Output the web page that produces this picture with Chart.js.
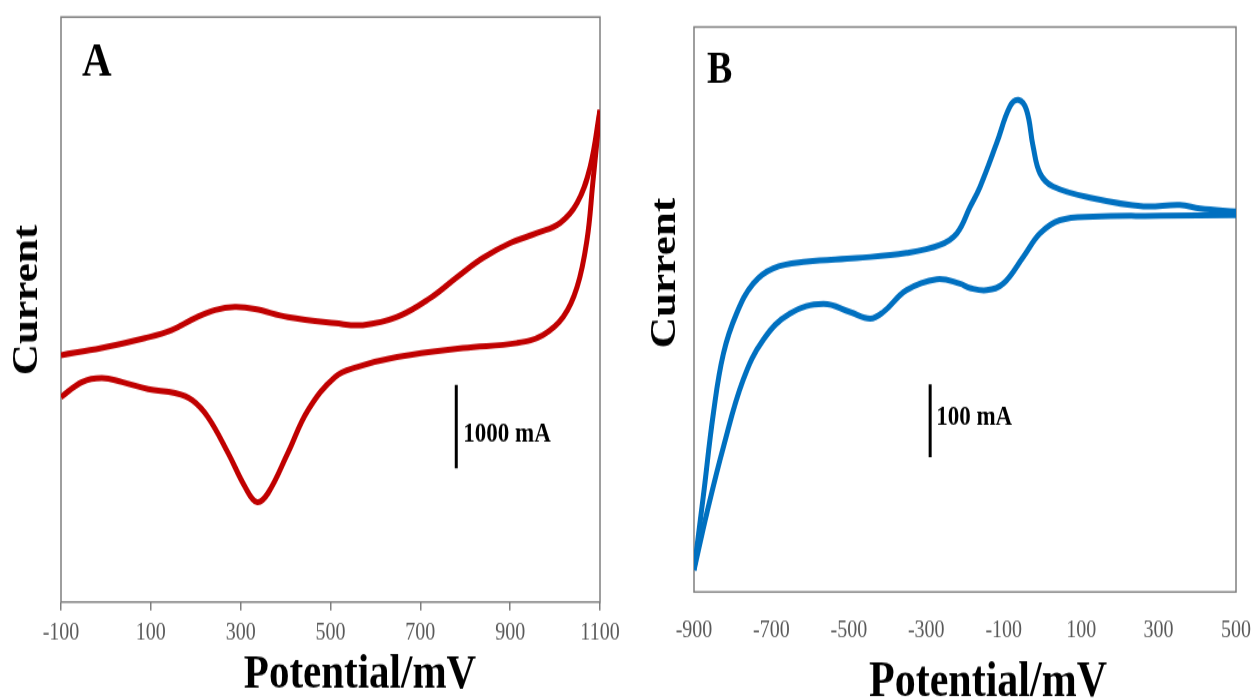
<!DOCTYPE html>
<html>
<head>
<meta charset="utf-8">
<script src="https://cdn.jsdelivr.net/npm/chart.js@4.4.0/dist/chart.umd.min.js"></script>
<style>
  html, body { margin: 0; padding: 0; background: #fff; }
  #wrap { position: relative; width: 1254px; height: 699px; overflow: hidden; }
  /* the source figure is stretched vertically, so each panel is scaled the same way */
  .panel { position: absolute; top: 0; width: 627px; height: 583px; transform: scaleY(1.2); transform-origin: 0 0; }
  #pa { left: 0; }
  #pb { left: 627px; }
  canvas { display: block; }
</style>
</head>
<body>
<div id="wrap">
  <div class="panel" id="pa"><canvas id="ca" width="627" height="583" style="width:627px;height:583px"></canvas></div>
  <div class="panel" id="pb"><canvas id="cb" width="627" height="583" style="width:627px;height:583px"></canvas></div>
</div>
<script>
// ---- Panel A: potential (mV) / current (mA), anodic branch and cathodic branch
const aUpperE = [-100, -10, 87, 146, 198, 243, 287, 332, 405, 510, 572, 648, 722, 782, 839, 900, 960, 1011, 1049, 1078, 1100];
const aUpperI = [-45, 40, 159, 255, 398, 494, 530, 506, 410, 338, 314, 410, 637, 889, 1116, 1296, 1415, 1535, 1774, 2205, 2887];
const aLowerE = [-100, -53, -9, 36, 94, 154, 192, 227, 272, 310, 336, 361, 405, 450, 510, 559, 648, 795, 915, 973, 1018, 1049, 1071, 1084, 1100];
const aLowerI = [-547, -367, -320, -367, -451, -499, -583, -786, -1217, -1624, -1803, -1696, -1217, -703, -308, -188, -68, 39, 99, 195, 410, 769, 1332, 2014, 2887];
const aTicks = [-100, 100, 300, 500, 700, 900, 1100];
const aBarE = 780;
const aBarI = [-1400, -400];   // 1000 mA scale bar

// ---- Panel B
const bUpperE = [-900, -876, -850, -824, -790, -747, -695, -609, -480, -351, -265, -221, -187, -161, -118, -84, -62, -41, -24, -6, 28, 131, 261, 355, 407, 500];
const bUpperI = [-520, -419, -305, -223, -168, -127, -106, -97, -92, -85, -74, -58, -22, 6, 66, 116, 125, 111, 61, 24, 6, -10, -21, -19, -24, -28];
const bLowerE = [-900, -867, -824, -773, -721, -652, -566, -497, -445, -411, -351, -273, -213, -187, -144, -101, -49, -6, 45, 131, 304, 500];
const bLowerI = [-520, -442, -351, -259, -204, -168, -155, -166, -175, -166, -136, -121, -127, -133, -136, -127, -90, -58, -40, -35, -34, -33];
const bTicks = [-900, -700, -500, -300, -100, 100, 300, 500];
const bBarE = -290;
const bBarI = [-365, -265];    // 100 mA scale bar

const SERIF = '"Liberation Serif", "Times New Roman", serif';

const pts = (xs, ys) => xs.map((x, i) => ({ x: x, y: ys[i] }));

// frame around the plot area + free text (panel letter, titles, scale bar label)
const frameAndText = {
  id: 'frameAndText',
  beforeDatasetsDraw(chart) {
    const { ctx, chartArea: a } = chart;
    ctx.save();
    ctx.strokeStyle = '#7f7f7f';
    ctx.lineWidth = 1.5;
    ctx.strokeRect(a.left, a.top, a.right - a.left, a.bottom - a.top);
    ctx.restore();
  },
  afterDraw(chart, args, opts) {
    const { ctx, chartArea: a, scales } = chart;
    for (const t of opts.texts || []) {
      const p = t.at(a, scales.x, scales.y);
      ctx.save();
      ctx.fillStyle = '#000';
      ctx.font = 'bold ' + t.size + 'px ' + SERIF;
      ctx.textAlign = t.align || 'left';
      ctx.textBaseline = t.base || 'alphabetic';
      ctx.translate(p[0], p[1]);
      if (t.rotate) ctx.rotate(t.rotate);
      ctx.fillText(t.text, 0, 0);
      ctx.restore();
    }
  }
};

function makePanel(id, c) {
  return new Chart(document.getElementById(id), {
    type: 'scatter',
    data: {
      datasets: [
        { data: pts(c.upperE, c.upperI), showLine: true, borderColor: c.color, borderWidth: 5,
          pointRadius: 0, tension: 0.4 },
        { data: pts(c.lowerE, c.lowerI), showLine: true, borderColor: c.color, borderWidth: 5,
          pointRadius: 0, tension: 0.4 },
        { data: pts([c.barE, c.barE], c.barI), showLine: true, borderColor: '#000', borderWidth: 3,
          pointRadius: 0, tension: 0 }
      ]
    },
    options: {
      responsive: false,
      animation: false,
      events: [],
      layout: { padding: c.pad },
      plugins: {
        legend: { display: false },
        tooltip: { enabled: false },
        frameAndText: { texts: c.texts }
      },
      scales: {
        x: {
          type: 'linear', min: c.xMin, max: c.xMax,
          afterBuildTicks: s => { s.ticks = c.xTicks.map(v => ({ value: v })); },
          afterFit: s => { s.height = c.axisH; s.paddingLeft = 0; s.paddingRight = 0; },
          border: { display: false },
          grid: { display: c.tickMarks, drawOnChartArea: false, drawTicks: true,
                  tickLength: c.tickLen, color: '#7f7f7f', lineWidth: 1.5 },
          ticks: { padding: c.tickPad, color: '#595959', maxRotation: 0,
                   callback: v => String(v),
                   font: { family: SERIF, size: 20 } }
        },
        y: { type: 'linear', display: false, min: c.yMin, max: c.yMax }
      }
    },
    plugins: [frameAndText]
  });
}

makePanel('ca', {
  upperE: aUpperE, upperI: aUpperI, lowerE: aLowerE, lowerI: aLowerI,
  barE: aBarE, barI: aBarI, color: '#c00000',
  xMin: -100, xMax: 1100, yMin: -3000, yMax: 4000, xTicks: aTicks,
  pad: { left: 61, right: 27, top: 14.2, bottom: 0 }, axisH: 81.3,
  tickMarks: true, tickLen: 7, tickPad: 7,
  texts: [
    { text: 'A', size: 41, at: a => [a.left + 21, a.top + 49] },
    { text: '1000 mA', size: 23, base: 'middle', at: (a, x, y) => [x.getPixelForValue(aBarE) + 7, y.getPixelForValue(-1000)] },
    { text: 'Potential/mV', size: 41, align: 'center', at: a => [(a.left + a.right) / 2 + 29.5, a.bottom + 71.6] },
    { text: 'Current', size: 36, align: 'center', base: 'middle', rotate: -Math.PI / 2, at: a => [a.left - 33, a.top + 235.8] }
  ]
});

makePanel('cb', {
  upperE: bUpperE, upperI: bUpperI, lowerE: bLowerE, lowerI: bLowerI,
  barE: bBarE, barI: bBarI, color: '#0070c0',
  xMin: -900, xMax: 500, yMin: -550, yMax: 225, xTicks: bTicks,
  pad: { left: 67, right: 18, top: 22.5, bottom: 0 }, axisH: 89.7,
  tickMarks: false, tickLen: 17, tickPad: 3,
  texts: [
    { text: 'B', size: 38, at: a => [a.left + 13, a.top + 46.7] },
    { text: '100 mA', size: 23, base: 'middle', at: (a, x, y) => [x.getPixelForValue(bBarE) + 6, y.getPixelForValue(-311)] },
    { text: 'Potential/mV', size: 42, align: 'center', at: a => [(a.left + a.right) / 2 + 23, a.bottom + 86.7] },
    { text: 'Current', size: 36, align: 'center', base: 'middle', rotate: -Math.PI / 2, at: a => [a.left - 28, a.top + 205] }
  ]
});
</script>
</body>
</html>
